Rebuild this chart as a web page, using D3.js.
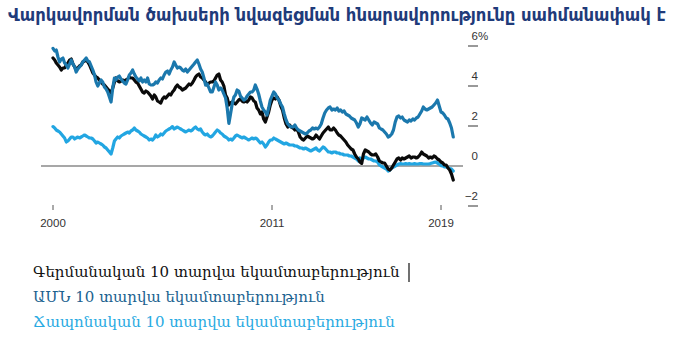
<!DOCTYPE html>
<html>
<head>
<meta charset="utf-8">
<script src="https://cdn.jsdelivr.net/npm/d3@7/dist/d3.min.js"></script>
<style>
  html, body { margin: 0; padding: 0; background: #fff; }
  svg { display: block; }
</style>
</head>
<body>
<svg id="chart" width="681" height="346"></svg>
<script>
// Monthly 10-year government bond yields, %, January 2000 – August 2019
const startYear = 2000;
const germany = [
  5.40, 5.30, 5.15, 5.05, 4.95, 4.80, 4.90, 4.90, 5.05, 5.15, 5.30, 5.35,
  5.10, 4.95, 4.85, 4.90, 5.00, 5.05, 5.20, 5.25, 5.30, 5.20, 5.05, 4.85,
  4.65, 4.55, 4.45, 4.40, 4.30, 4.20, 4.10, 4.05, 3.95, 3.85, 3.75, 3.65,
  3.90, 4.20, 4.40, 4.25, 4.20, 4.25, 4.30, 4.25, 4.30, 4.35, 4.45, 4.40,
  4.40, 4.30, 4.20, 4.15, 4.00, 3.85, 3.70, 3.65, 3.75, 3.70, 3.60, 3.50,
  3.35, 3.55, 3.45, 3.25, 3.20, 3.15, 3.35, 3.45, 3.40, 3.50, 3.60, 3.55,
  3.70, 3.80, 3.95, 4.05, 3.95, 3.90, 3.80, 3.85, 3.90, 4.00, 4.10, 4.05,
  4.15, 4.30, 4.45, 4.55, 4.60, 4.45, 4.40, 4.30, 4.20, 4.05, 4.15, 4.20,
  4.20, 4.25, 4.40, 4.55, 4.60, 4.30, 4.20, 4.00, 3.55, 3.40, 3.05, 3.15,
  3.20, 3.15, 3.10, 3.20, 3.30, 3.35, 3.25, 3.20, 3.25, 3.20, 3.30, 3.45,
  3.40, 3.25, 3.20, 2.90, 2.80, 2.60, 2.70, 2.35, 2.20, 2.45, 2.70, 3.05,
  3.30, 3.40, 3.35, 3.45, 3.30, 3.00, 2.80, 2.40, 2.10, 1.95, 2.05, 1.95,
  1.90, 1.80, 1.85, 1.70, 1.45, 1.35, 1.30, 1.40, 1.50, 1.45, 1.40, 1.35,
  1.40, 1.55, 1.45, 1.35, 1.50, 1.65, 1.75, 1.85, 1.95, 1.80, 1.80, 1.90,
  1.80, 1.65, 1.55, 1.50, 1.40, 1.30, 1.20, 1.05, 0.95, 0.85, 0.80, 0.60,
  0.45, 0.35, 0.20, 0.13, 0.60, 0.80, 0.75, 0.70, 0.60, 0.55, 0.55, 0.60,
  0.45, 0.25, 0.20, 0.15, 0.15, 0.00, -0.15, -0.20, -0.10, 0.05, 0.20, 0.35,
  0.40, 0.30, 0.40, 0.35, 0.40, 0.45, 0.50, 0.40, 0.45, 0.45, 0.40, 0.45,
  0.55, 0.70, 0.60, 0.55, 0.50, 0.40, 0.45, 0.40, 0.50, 0.45, 0.35, 0.30,
  0.20, 0.15, 0.05, 0.05, -0.10, -0.20, -0.40, -0.70
];
const unitedStates = [
  5.88, 5.75, 5.80, 5.45, 5.20, 5.35, 5.40, 5.15, 5.05, 4.90, 5.10, 5.30,
  5.10, 4.95, 4.70, 4.85, 4.95, 5.05, 5.20, 5.30, 5.40, 5.25, 5.20, 5.00,
  4.80, 4.55, 4.20, 4.00, 4.15, 4.30, 4.20, 3.95, 3.85, 3.70, 3.45, 3.20,
  3.90, 4.40, 4.30, 4.45, 4.50, 4.35, 4.25, 4.15, 4.10, 4.30, 4.55, 4.65,
  4.80, 4.60, 4.45, 4.35, 4.25, 4.40, 4.20, 4.30, 4.20, 4.40, 4.10, 4.05,
  4.05, 4.10, 4.20, 4.15, 4.30, 4.40, 4.35, 4.55, 4.70, 4.75, 4.60, 4.80,
  4.95, 5.20, 5.05, 4.90, 4.95, 4.90, 4.80, 4.75, 4.85, 4.70, 4.80, 4.90,
  5.00, 5.10, 5.20, 5.30, 5.10, 4.85, 4.70, 4.40, 4.05, 4.10, 3.90, 3.70,
  3.70, 3.95, 4.20, 4.05, 3.80, 3.90, 3.80, 3.60, 3.40, 2.90, 2.13, 2.60,
  3.10, 3.45, 3.55, 3.80, 3.75, 3.50, 3.40, 3.30, 3.35, 3.50, 3.60, 3.70,
  3.70, 3.80, 4.05, 3.85, 3.60, 3.25, 2.95, 2.80, 2.70, 2.55, 2.90, 3.30,
  3.50, 3.70, 3.60, 3.40, 3.30, 3.10, 2.95, 2.60, 2.30, 2.10, 2.00, 1.95,
  1.95, 2.05, 1.90, 1.80, 1.75, 1.70, 1.65, 1.60, 1.65, 1.75, 1.80, 1.90,
  1.85, 1.90, 1.85, 1.95, 2.10, 2.40, 2.65, 2.80, 2.90, 2.95, 2.80, 2.85,
  2.80, 2.90, 2.75, 2.80, 2.70, 2.75, 2.60, 2.55, 2.50, 2.40, 2.35, 2.30,
  2.15, 1.95, 2.10, 2.40, 2.35, 2.30, 2.45, 2.30, 2.15, 2.05, 2.20, 2.15,
  2.10, 1.90, 1.85, 1.80, 1.70, 1.60, 1.45, 1.50, 1.60, 1.80, 2.20, 2.45,
  2.50, 2.40, 2.45, 2.30, 2.25, 2.20, 2.30, 2.25, 2.35, 2.30, 2.40, 2.45,
  2.60, 2.75, 2.95, 2.85, 2.80, 2.85, 2.90, 2.95, 3.05, 3.15, 3.30, 3.00,
  2.70, 2.65, 2.55, 2.40, 2.35, 2.15, 1.90, 1.45
];
const japan = [
  1.97, 1.90, 1.80, 1.75, 1.70, 1.60, 1.50, 1.40, 1.20, 1.25, 1.35, 1.45,
  1.45, 1.35, 1.40, 1.45, 1.40, 1.45, 1.50, 1.55, 1.50, 1.45, 1.40, 1.40,
  1.35, 1.25, 1.15, 1.20, 1.15, 1.10, 1.05, 0.95, 0.90, 0.80, 0.70, 0.60,
  0.90, 1.25, 1.35, 1.45, 1.40, 1.50, 1.55, 1.60, 1.65, 1.70, 1.65, 1.75,
  1.80, 1.90, 1.80, 1.75, 1.70, 1.60, 1.55, 1.50, 1.45, 1.40, 1.30, 1.35,
  1.30, 1.40, 1.55, 1.45, 1.50, 1.60, 1.55, 1.65, 1.75, 1.80, 1.85, 1.90,
  1.97, 1.85, 1.90, 1.95, 1.90, 1.85, 1.80, 1.75, 1.70, 1.75, 1.80, 1.75,
  1.80, 1.90, 1.95, 1.85, 1.80, 1.85, 1.70, 1.60, 1.55, 1.60, 1.50, 1.45,
  1.50, 1.60, 1.70, 1.80, 1.75, 1.65, 1.60, 1.50, 1.45, 1.40, 1.30, 1.35,
  1.30, 1.40, 1.50, 1.55, 1.50, 1.45, 1.40, 1.45, 1.40, 1.35, 1.30, 1.35,
  1.40, 1.35, 1.40, 1.35, 1.25, 1.15, 1.20, 1.10, 0.95, 1.05, 1.20, 1.30,
  1.30, 1.40, 1.35, 1.30, 1.25, 1.20, 1.15, 1.10, 1.15, 1.10, 1.05, 1.05,
  1.05, 1.00, 1.00, 0.95, 0.90, 0.90, 0.85, 0.90, 0.85, 0.80, 0.75, 0.80,
  0.85, 0.90, 0.80, 0.75, 0.85, 0.95, 0.90, 0.80, 0.70, 0.70, 0.65, 0.70,
  0.70, 0.65, 0.65, 0.60, 0.60, 0.55, 0.55, 0.55, 0.50, 0.50, 0.45, 0.40,
  0.35, 0.25, 0.40, 0.35, 0.40, 0.45, 0.40, 0.35, 0.35, 0.30, 0.25, 0.25,
  0.20, 0.05, 0.00, -0.05, -0.10, -0.15, -0.25, -0.20, -0.10, -0.05, 0.00, 0.05,
  0.10, 0.12, 0.10, 0.10, 0.12, 0.10, 0.12, 0.10, 0.10, 0.12, 0.10, 0.10,
  0.12, 0.12, 0.10, 0.10, 0.10, 0.10, 0.12, 0.15, 0.18, 0.20, 0.15, 0.10,
  0.02, 0.00, -0.05, -0.05, -0.08, -0.12, -0.15, -0.25
];

const xTickYears = [2000, 2011, 2019];
const yTicks = [-2, 0, 2, 4, 6];

const titleText = "Վարկավորման ծախսերի նվազեցման հնարավորությունը սահմանափակ է";
const seriesNames = [
  "Գերմանական 10 տարվա եկամտաբերություն",
  "ԱՄՆ 10 տարվա եկամտաբերություն",
  "Ճապոնական 10 տարվա եկամտաբերություն"
];
const seriesColors = ["#0a0a0a", "#1b78ad", "#22a6e2"];
const labelColors = ["#111111", "#1b628f", "#29aae2"];

const svg = d3.select("#chart");
const armenianFont = "'DejaVu Serif', 'DejaVu Sans', serif";
const titleFont = "'DejaVu Sans Condensed', 'DejaVu Sans', sans-serif";
const axisFont = "'Liberation Sans', Arial, sans-serif";

const monthDate = i => new Date(startYear, i, 1);

// Time axis with year anchors
const x = d3.scaleTime()
  .domain(xTickYears.map(yr => new Date(yr, 0, 1)))
  .range([53, 272, 441]);

const y = d3.scaleLinear().domain([-2, 6]).range([206, 46]);

// Title, sized so it spans the available width
const title = svg.append("text")
  .attr("x", 8).attr("y", 21)
  .attr("font-family", titleFont)
  .attr("font-weight", "bold")
  .attr("font-size", 16)
  .attr("fill", "#1f3b7a")
  .text(titleText);
{
  const w = title.node().getComputedTextLength();
  title.attr("font-size", Math.min(18.5, 16 * 658 / w));
}

// Zero baseline
svg.append("line")
  .attr("x1", 41).attr("x2", 463)
  .attr("y1", y(0)).attr("y2", y(0))
  .attr("stroke", "#8a8a8a").attr("stroke-width", 1.4);

// Right-hand value axis: short dashes with labels above
const yAxis = svg.append("g");
yAxis.selectAll("line.tick").data(yTicks.filter(t => t !== 0)).enter()
  .append("line")
  .attr("x1", 468).attr("x2", 478)
  .attr("y1", d => y(d)).attr("y2", d => y(d))
  .attr("stroke", "#555").attr("stroke-width", 1.2);
yAxis.selectAll("text.num").data(yTicks).enter()
  .append("text")
  .attr("x", 478)
  .attr("y", d => y(d) - 6)
  .attr("text-anchor", "end")
  .attr("font-family", axisFont)
  .attr("font-size", 11.5)
  .attr("fill", "#333")
  .text(d => d3.format("d")(d));
yAxis.append("text")
  .attr("x", 478).attr("y", y(6) - 6)
  .attr("font-family", axisFont)
  .attr("font-size", 11.5)
  .attr("fill", "#333")
  .text("%");

// Bottom year ticks
const xAxis = svg.append("g");
xAxis.selectAll("line").data(xTickYears).enter()
  .append("line")
  .attr("x1", d => x(new Date(d, 0, 1))).attr("x2", d => x(new Date(d, 0, 1)))
  .attr("y1", 205).attr("y2", 210)
  .attr("stroke", "#555").attr("stroke-width", 1);
xAxis.selectAll("text").data(xTickYears).enter()
  .append("text")
  .attr("x", d => x(new Date(d, 0, 1)))
  .attr("y", 227)
  .attr("text-anchor", "middle")
  .attr("font-family", axisFont)
  .attr("font-size", 11.5)
  .attr("fill", "#333")
  .text(d => d);

// Yield lines, Japan drawn first, then Germany, US on top
const line = d3.line()
  .x((d, i) => x(monthDate(i)))
  .y(d => y(d))
  .curve(d3.curveLinear);

const drawOrder = [
  { values: japan, color: seriesColors[2] },
  { values: germany, color: seriesColors[0] },
  { values: unitedStates, color: seriesColors[1] }
];
svg.append("g").selectAll("path").data(drawOrder).enter()
  .append("path")
  .attr("d", d => line(d.values))
  .attr("fill", "none")
  .attr("stroke", d => d.color)
  .attr("stroke-width", 3.2)
  .attr("stroke-linejoin", "round")
  .attr("stroke-linecap", "round");

// Legend text below the chart
const legend = svg.append("g");
legend.selectAll("text").data(seriesNames).enter()
  .append("text")
  .attr("x", 33)
  .attr("y", (d, i) => 277 + i * 25)
  .attr("font-family", armenianFont)
  .attr("font-size", 15)
  .attr("fill", (d, i) => labelColors[i])
  .text(d => d);
legend.append("line")
  .attr("x1", 409).attr("x2", 409)
  .attr("y1", 263).attr("y2", 282)
  .attr("stroke", "#111").attr("stroke-width", 1.2);
</script>
</body>
</html>
